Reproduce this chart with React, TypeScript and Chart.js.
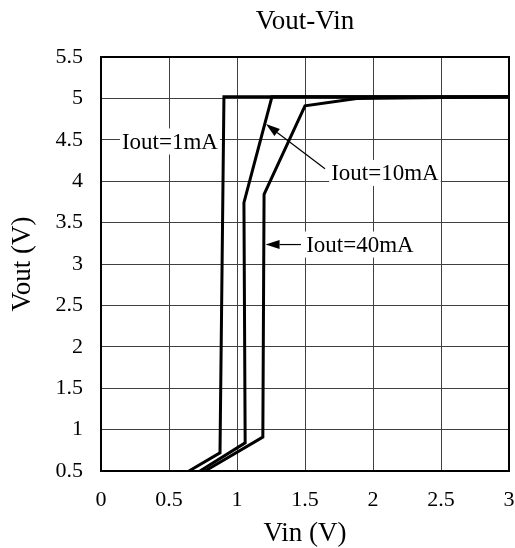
import React, { useEffect, useRef } from "react";
import { Chart, registerables } from "chart.js";

Chart.register(...registerables);

const xTicks = [0, 0.5, 1, 1.5, 2, 2.5, 3];
const yTicks = [0.5, 1, 1.5, 2, 2.5, 3, 3.5, 4, 4.5, 5, 5.5];

const vin1mA = [0.647, 0.875, 0.904, 3.0];
const vout1mA = [0.5, 0.72, 5.02, 5.02];
const vin10mA = [0.728, 1.06, 1.051, 1.257, 3.0];
const vout10mA = [0.5, 0.84, 3.74, 5.02, 5.02];
const vin40mA = [0.765, 1.19, 1.199, 1.5, 1.88, 3.0];
const vout40mA = [0.5, 0.91, 3.84, 4.91, 5.0, 5.02];

const labels = ["Iout=1mA", "Iout=10mA", "Iout=40mA"];

const FONT = "'Liberation Serif', 'Times New Roman', serif";

const toPts = (xs: number[], ys: number[]) => xs.map((x, i) => ({ x, y: ys[i] }));

// annotation placements in data units
const annotations = [
  { text: labels[0], cx: 0.507, cy: 4.48, arrow: null as null | number[] },
  { text: labels[1], cx: 2.088, cy: 4.1, arrow: [1.647, 4.15, 1.213, 4.69] },
  { text: labels[2], cx: 1.904, cy: 3.235, arrow: [1.47, 3.235, 1.21, 3.235] },
];

const annotPlugin = {
  id: "annot",
  afterDatasetsDraw(chart: any) {
    const { ctx, chartArea, scales } = chart;
    const xs = scales.x;
    const ys = scales.y;
    ctx.save();
    // frame
    ctx.strokeStyle = "#000";
    ctx.lineWidth = 2;
    ctx.strokeRect(chartArea.left, chartArea.top, chartArea.right - chartArea.left, chartArea.bottom - chartArea.top);
    ctx.font = `23px ${FONT}`;
    ctx.textAlign = "center";
    ctx.textBaseline = "middle";
    for (const a of annotations) {
      const px = xs.getPixelForValue(a.cx);
      const py = ys.getPixelForValue(a.cy);
      const w = ctx.measureText(a.text).width + 4;
      const h = 26;
      ctx.fillStyle = "#fff";
      ctx.fillRect(px - w / 2, py - h / 2, w, h);
      ctx.fillStyle = "#000";
      ctx.fillText(a.text, px, py + 1);
      if (a.arrow) {
        const x0 = xs.getPixelForValue(a.arrow[0]);
        const y0 = ys.getPixelForValue(a.arrow[1]);
        const x1 = xs.getPixelForValue(a.arrow[2]);
        const y1 = ys.getPixelForValue(a.arrow[3]);
        const ang = Math.atan2(y1 - y0, x1 - x0);
        const L = 14;
        const W = 4.5;
        const bx = x1 - L * Math.cos(ang);
        const by = y1 - L * Math.sin(ang);
        ctx.strokeStyle = "#000";
        ctx.lineWidth = 1.2;
        ctx.beginPath();
        ctx.moveTo(x0, y0);
        ctx.lineTo(bx, by);
        ctx.stroke();
        ctx.beginPath();
        ctx.moveTo(x1, y1);
        ctx.lineTo(bx + W * Math.sin(ang), by - W * Math.cos(ang));
        ctx.lineTo(bx - W * Math.sin(ang), by + W * Math.cos(ang));
        ctx.closePath();
        ctx.fill();
      }
    }
    ctx.restore();
  },
};

export default function App() {
  const ref = useRef<HTMLCanvasElement | null>(null);
  useEffect(() => {
    if (!ref.current) return;
    const lineDs = (data: any) => ({
      data,
      borderColor: "#000",
      backgroundColor: "#000",
      borderWidth: 3,
      pointRadius: 0,
      tension: 0,
      fill: false,
      showLine: true,
    });
    const chart = new Chart(ref.current, {
      type: "line",
      data: {
        datasets: [
          { label: labels[0], ...lineDs(toPts(vin1mA, vout1mA)) },
          { label: labels[1], ...lineDs(toPts(vin10mA, vout10mA)) },
          { label: labels[2], ...lineDs(toPts(vin40mA, vout40mA)) },
        ],
      },
      options: {
        responsive: false,
        animation: false,
        devicePixelRatio: 1,
        layout: { padding: { left: 0, right: 6, top: 0, bottom: 0 } },
        plugins: {
          legend: { display: false },
          tooltip: { enabled: false },
          title: {
            display: true,
            text: "Vout-Vin",
            color: "#000",
            fullSize: false,
            font: { family: FONT, size: 27, weight: "normal" },
            padding: { top: 6, bottom: 18.6 },
          },
        },
        scales: {
          x: {
            type: "linear",
            min: 0,
            max: 3,
            afterBuildTicks: (s: any) => {
              s.ticks = xTicks.map((v) => ({ value: v }));
            },
            afterFit: (s: any) => {
              s.height = 77;
              s.paddingLeft = 0;
              s.paddingRight = 0;
            },
            ticks: {
              color: "#000",
              font: { family: FONT, size: 22 },
              padding: 16,
              maxRotation: 0,
              callback: (v: any) => String(v),
            },
            grid: { color: "#404040", lineWidth: 1, drawTicks: false },
            border: { display: false },
            title: {
              display: true,
              text: "Vin (V)",
              color: "#000",
              font: { family: FONT, size: 27 },
              padding: { top: 0, bottom: -2 },
            },
          },
          y: {
            type: "linear",
            min: 0.5,
            max: 5.5,
            afterBuildTicks: (s: any) => {
              s.ticks = yTicks.map((v) => ({ value: v }));
            },
            afterFit: (s: any) => {
              s.width = 101;
            },
            ticks: {
              color: "#000",
              font: { family: FONT, size: 22 },
              padding: 18,
              callback: (v: any) => String(v),
            },
            grid: { color: "#404040", lineWidth: 1, drawTicks: false },
            border: { display: false },
            title: {
              display: true,
              text: "Vout (V)",
              color: "#000",
              font: { family: FONT, size: 27 },
              padding: { top: 7, bottom: 0 },
            },
          },
        },
      },
      plugins: [annotPlugin],
    } as any);
    return () => chart.destroy();
  }, []);
  return (
    <div style={{ position: "absolute", left: 0, top: 0, width: 515, height: 548 }}>
      <canvas ref={ref} width={515} height={548} style={{ display: "block" }} />
    </div>
  );
}
